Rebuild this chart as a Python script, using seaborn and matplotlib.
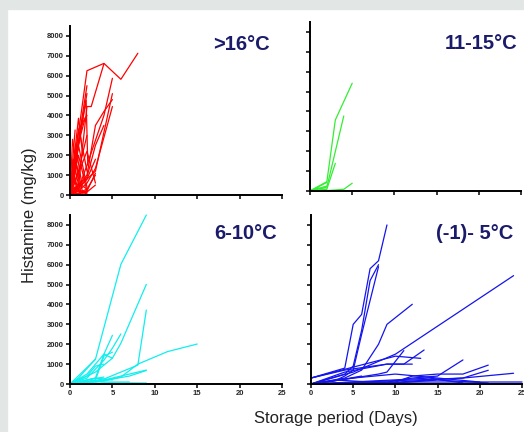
import pandas as pd
import matplotlib.pyplot as plt
import seaborn as sns
from matplotlib.patches import Rectangle

# data (storage days vs histamine mg/kg), one list per curve

red_days = [[0, 2, 4, 6, 8], [0, 1, 2, 2.5, 4], [0, 1, 2, 4, 5], [0, 1, 3, 5], [0, 1, 2, 3, 5],
            [0, 2, 3, 4, 5], [0, 0.6], [0, 1, 1.5], [0, 1.5], [0, 2], [0, 1.9, 2.1], [0, 2],
            [0, 1, 2], [0, 0.5, 1, 2], [0, 1, 2], [0, 2, 3], [0, 1, 2, 3], [0, 0.3, 1.2],
            [0, 2], [0, 1, 2], [0, 0.8, 1.5], [0, 1, 2], [0, 0.4, 1], [0, 1, 2, 3], [0, 2, 3, 4],
            [0, 0.5, 1.5, 2], [0, 1, 2, 3], [0, 0.7, 1.3], [0, 1.2, 2], [0, 0.5, 1, 2],
            [0, 1, 1.8], [0, 0.3, 0.8, 2], [0, 1, 2, 3]]
red_vals = [[0, 6250, 6620, 5820, 7130], [0, 500, 4450, 4450, 6600], [0, 300, 1500, 4000, 5870],
            [0, 400, 1200, 5100], [0, 200, 600, 1340, 4450], [0, 1000, 3500, 4200, 4800],
            [0, 3270], [0, 3860, 2000], [0, 3860], [0, 5110], [0, 4770, 1500], [0, 5500],
            [0, 1200, 3000], [0, 800, 2500, 400], [0, 2000, 200], [0, 2200, 600], [0, 300, 800, 1800],
            [0, 2800, 300], [0, 150], [0, 100, 300], [0, 1500, 100], [0, 3300, 4000],
            [0, 1800, 500], [0, 600, 300, 1000], [0, 900, 2500, 3500],
            [0, 400, 100, 250], [0, 200, 150, 500], [0, 2400, 800], [0, 3000, 1200],
            [0, 1000, 200, 50], [0, 2600, 3900], [0, 1200, 300, 100], [0, 50, 200, 1100]]

green_days = [[0, 2, 3, 5], [0, 2, 4], [0, 2, 3], [0, 2, 4, 5], [0, 2], [0, 2], [0, 1, 2]]
green_vals = [[0, 470, 3570, 5420], [0, 200, 3770], [0, 100, 1390], [0, 20, 85, 390],
              [0, 430], [0, 250], [0, 150, 50]]

cyan_days = [[0, 3, 6, 9], [0, 3, 5, 6, 9], [0, 4, 8, 9], [0, 4, 6, 8, 11.5, 15], [0, 3, 4, 5],
             [0, 2, 4, 5, 6], [0, 2, 3, 4, 5], [0, 1, 3], [0, 2, 3, 4], [0, 4, 6, 9],
             [0, 3, 5, 7, 9], [0, 3, 4, 7], [0, 5, 9], [0, 2, 4], [0, 1, 3, 5], [0, 3, 4, 5]]
cyan_vals = [[0, 1240, 6020, 8500], [0, 600, 1300, 2050, 5010], [0, 250, 950, 3720],
             [0, 150, 350, 1000, 1630, 2010], [0, 300, 1500, 2450], [0, 300, 1200, 1800, 2520],
             [0, 500, 1000, 1500, 1300], [0, 300, 1250], [0, 400, 900, 1000], [0, 200, 400, 700],
             [0, 100, 250, 400, 680], [0, 150, 100, 100], [0, 60, 50], [0, 200, 350],
             [0, 100, 300, 200], [0, 200, 1400, 1600]]

blue_days = [[0, 4, 5, 6, 7, 8, 9], [0, 4, 5, 6, 7, 8], [0, 3, 4, 5, 6, 8], [0, 5, 10, 24],
             [0, 4, 6, 8, 9, 12], [0, 4, 9, 11, 13.4], [0, 5, 8, 9, 11], [0, 10, 13], [0, 4, 9, 12],
             [0, 9, 12, 15, 18], [0, 10, 12, 15, 18, 21], [0, 9, 12, 18, 21], [0, 12, 18, 24],
             [0, 12, 20, 25], [0, 5, 10, 15, 20], [0, 3, 9], [0, 2, 6], [0, 10, 15, 21],
             [0, 12, 14, 18]]
blue_vals = [[300, 800, 3000, 3500, 5800, 6200, 8000], [0, 500, 900, 2700, 5200, 6000],
             [0, 200, 400, 700, 2500, 5900], [0, 600, 1500, 5450], [0, 300, 700, 2000, 3000, 4010],
             [300, 700, 1000, 1000, 1710], [0, 300, 500, 600, 1680], [300, 1400, 1290],
             [0, 600, 1000, 1000], [0, 100, 300, 400, 1210], [0, 100, 400, 500, 500, 950],
             [0, 50, 150, 300, 690], [0, 200, 300, 540], [0, 100, 100, 100], [0, 300, 500, 300, 100],
             [0, 200, 50], [0, 100, 400], [0, 50, 200, 50], [0, 250, 300, 50]]

panel_titles = ['>16°C', '11-15°C', '6-10°C', '(-1)- 5°C']
panel_colors = ['#ff0000', '#33ee33', '#11eeee', '#1414ee']
y_ticks = [0, 1000, 2000, 3000, 4000, 5000, 6000, 7000, 8000]
x_ticks = [0, 5, 10, 15, 20, 25]


def to_frame(days, vals):
    rows = []
    for i, (d, v) in enumerate(zip(days, vals)):
        for dd, vv in zip(d, v):
            rows.append({'curve': i, 'day': dd, 'histamine': vv})
    return pd.DataFrame(rows)


sns.set_style('ticks')
plt.rcParams['font.family'] = ['Liberation Sans', 'DejaVu Sans']

fig = plt.figure(figsize=(5.24, 4.32), dpi=100, facecolor='white')
# grey frame strips at top and left of the slide
fig.patches.append(Rectangle((0, 1 - 9 / 432), 1, 9 / 432, transform=fig.transFigure,
                             color='#e2e7e5', zorder=0))
fig.patches.append(Rectangle((0, 0), 7 / 524, 1, transform=fig.transFigure,
                             color='#e2e7e5', zorder=0))

boxes = [[0.1336, 0.5486, 0.4046, 0.3912], [0.5916, 0.5579, 0.4027, 0.3912],
         [0.1336, 0.1111, 0.4046, 0.3912], [0.5935, 0.1111, 0.4027, 0.3912]]
title_x = [0.943, 0.981, 0.976, 0.957]
title_y = [0.89, 0.87, 0.89, 0.89]
data = [(red_days, red_vals), (green_days, green_vals), (cyan_days, cyan_vals), (blue_days, blue_vals)]

for k in range(4):
    ax = fig.add_axes(boxes[k])
    df = to_frame(*data[k])
    sns.lineplot(data=df, x='day', y='histamine', units='curve', estimator=None,
                 color=panel_colors[k], linewidth=0.9, ax=ax, clip_on=False)
    ax.set_xlim(0, 25)
    ax.set_ylim(0, 8500)
    ax.set_xticks(x_ticks)
    ax.set_yticks(y_ticks)
    ax.set_xlabel('')
    ax.set_ylabel('')
    sns.despine(ax=ax)
    for s in ['left', 'bottom']:
        ax.spines[s].set_linewidth(1.4)
        ax.spines[s].set_color('black')
    ax.tick_params(length=3, width=1.1, pad=1.5, labelsize=5.5, color='black')
    for lab in ax.get_xticklabels() + ax.get_yticklabels():
        lab.set_fontweight('bold')
    if k in (0, 1):
        ax.tick_params(axis='x', labelbottom=False)
    if k in (1, 3):
        ax.tick_params(axis='y', labelleft=False)
    ax.patch.set_alpha(0)
    ax.text(title_x[k], title_y[k], panel_titles[k], transform=ax.transAxes,
            ha='right', va='center', fontsize=14.5, fontweight='bold', color='#1b1b6b')

fig.text(30 / 524, 1 - 215 / 432, 'Histamine (mg/kg)', rotation=90, ha='center', va='center',
         fontsize=12, color='#222222')
fig.text(336 / 524, 1 - 418 / 432, 'Storage period (Days)', ha='center', va='center',
         fontsize=12, color='#222222')

plt.savefig('out.png', dpi=100)
